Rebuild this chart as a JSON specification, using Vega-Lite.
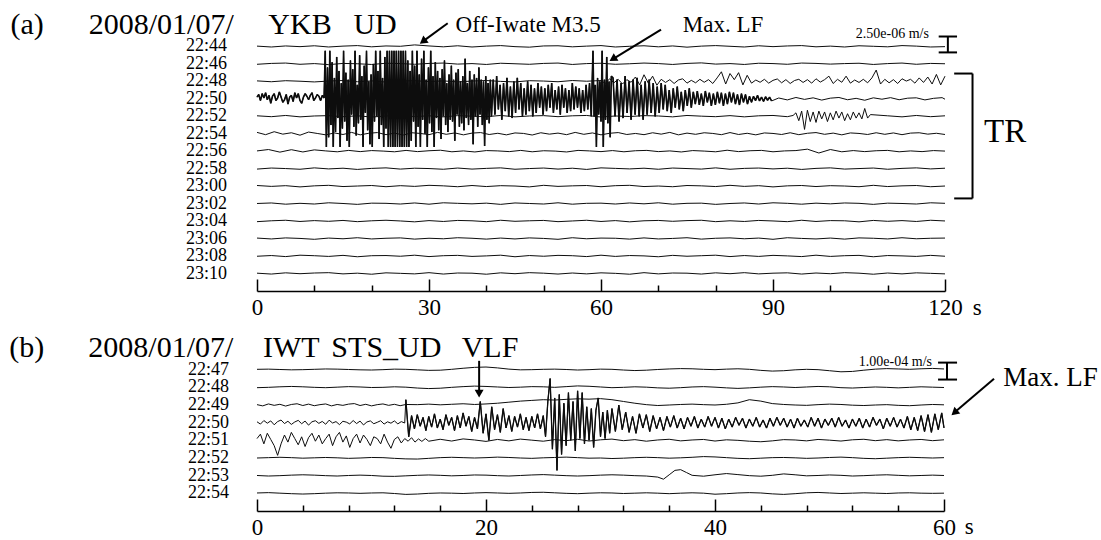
{
"$schema":"https://vega.github.io/schema/vega-lite/v6.json",
"background":"white",
"padding":{"left":9,"top":10,"right":4,"bottom":0},
"config":{"view":{"stroke":null},"font":"Liberation Serif","axis":{"labelFont":"Liberation Serif","labelColor":"black","grid":false}},
"spacing":61,
"bounds":"flush",
"datasets":{
"A":[
{"k":0,"t":0,"y":0.02},{"k":0,"t":2.5,"y":-0.03},{"k":0,"t":5,"y":0.03},{"k":0,"t":7.5,"y":-0.01},{"k":0,"t":10,"y":0.04},{"k":0,"t":12.5,"y":-0.03},{"k":0,"t":15,"y":0.02},{"k":0,"t":17.5,"y":0.05},{"k":0,"t":20,"y":-0.02},{"k":0,"t":22.5,"y":0.03},{"k":0,"t":25,"y":0.01},{"k":0,"t":27.5,"y":0.09},{"k":0,"t":30,"y":0.03},{"k":0,"t":32.5,"y":-0.02},{"k":0,"t":35,"y":0.04},{"k":0,"t":37.5,"y":-0.03},{"k":0,"t":40,"y":0.02},{"k":0,"t":42.5,"y":0.05},{"k":0,"t":45,"y":-0.01},{"k":0,"t":47.5,"y":-0.04},{"k":0,"t":50,"y":0.03},{"k":0,"t":52.5,"y":0.04},{"k":0,"t":55,"y":-0.02},{"k":0,"t":57.5,"y":0.02},{"k":0,"t":60,"y":0.05},{"k":0,"t":62.5,"y":-0.03},{"k":0,"t":65,"y":0.01},{"k":0,"t":67.5,"y":0.04},{"k":0,"t":70,"y":-0.02},{"k":0,"t":72.5,"y":0.03},{"k":0,"t":75,"y":-0.04},{"k":0,"t":77.5,"y":0.02},{"k":0,"t":80,"y":0.05},{"k":0,"t":82.5,"y":0.01},{"k":0,"t":85,"y":-0.03},{"k":0,"t":87.5,"y":0.04},{"k":0,"t":90,"y":-0.01},{"k":0,"t":92.5,"y":0.03},{"k":0,"t":95,"y":0.05},{"k":0,"t":97.5,"y":-0.02},{"k":0,"t":100,"y":0.02},{"k":0,"t":102.5,"y":-0.03},{"k":0,"t":105,"y":0.04},{"k":0,"t":107.5,"y":0.01},{"k":0,"t":110,"y":-0.02},{"k":0,"t":112.5,"y":0.05},{"k":0,"t":115,"y":0.02},{"k":0,"t":117.5,"y":-0.03},{"k":0,"t":120,"y":-0.01},
{"k":1,"t":0,"y":-1.02},{"k":1,"t":2.5,"y":-0.97},{"k":1,"t":5,"y":-0.95},{"k":1,"t":7.5,"y":-1.02},{"k":1,"t":10,"y":-0.98},{"k":1,"t":12.5,"y":-1.04},{"k":1,"t":15,"y":-0.97},{"k":1,"t":17.5,"y":-0.99},{"k":1,"t":20,"y":-1.03},{"k":1,"t":22.5,"y":-0.96},{"k":1,"t":25,"y":-0.98},{"k":1,"t":27.5,"y":-1.02},{"k":1,"t":30,"y":-0.97},{"k":1,"t":32.5,"y":-0.95},{"k":1,"t":35,"y":-1.01},{"k":1,"t":37.5,"y":-0.98},{"k":1,"t":40,"y":-1.03},{"k":1,"t":42.5,"y":-0.96},{"k":1,"t":45,"y":-0.99},{"k":1,"t":47.5,"y":-1.02},{"k":1,"t":50,"y":-0.97},{"k":1,"t":52.5,"y":-0.95},{"k":1,"t":55,"y":-1.03},{"k":1,"t":57.5,"y":-0.98},{"k":1,"t":60,"y":-0.96},{"k":1,"t":62.5,"y":-1.02},{"k":1,"t":65,"y":-0.99},{"k":1,"t":67.5,"y":-0.95},{"k":1,"t":70,"y":-0.98},{"k":1,"t":72.5,"y":-1.03},{"k":1,"t":75,"y":-0.97},{"k":1,"t":77.5,"y":-0.94},{"k":1,"t":80,"y":-1.01},{"k":1,"t":82.5,"y":-0.98},{"k":1,"t":85,"y":-1.03},{"k":1,"t":87.5,"y":-0.96},{"k":1,"t":90,"y":-0.98},{"k":1,"t":92.5,"y":-1.02},{"k":1,"t":95,"y":-0.95},{"k":1,"t":97.5,"y":-0.97},{"k":1,"t":100,"y":-1.01},{"k":1,"t":102.5,"y":-0.98},{"k":1,"t":105,"y":-0.96},{"k":1,"t":107.5,"y":-1.03},{"k":1,"t":110,"y":-0.98},{"k":1,"t":112.5,"y":-0.95},{"k":1,"t":115,"y":-1.02},{"k":1,"t":117.5,"y":-0.97},{"k":1,"t":120,"y":-0.99},
{"k":2,"t":0,"y":-1.97},{"k":2,"t":2.5,"y":-2.02},{"k":2,"t":5,"y":-1.96},{"k":2,"t":7.5,"y":-1.99},{"k":2,"t":10,"y":-2.03},{"k":2,"t":12.5,"y":-1.98},{"k":2,"t":15,"y":-1.95},{"k":2,"t":17.5,"y":-2.02},{"k":2,"t":20,"y":-1.97},{"k":2,"t":22.5,"y":-2.04},{"k":2,"t":25,"y":-1.98},{"k":2,"t":27.5,"y":-1.96},{"k":2,"t":30,"y":-2.01},{"k":2,"t":32.5,"y":-1.97},{"k":2,"t":35,"y":-2.03},{"k":2,"t":37.5,"y":-1.98},{"k":2,"t":40,"y":-1.95},{"k":2,"t":42.5,"y":-2},{"k":2,"t":45,"y":-2.03},{"k":2,"t":47.5,"y":-1.96},{"k":2,"t":50,"y":-1.98},{"k":2,"t":52.5,"y":-2.02},{"k":2,"t":55,"y":-1.95},{"k":2,"t":57.5,"y":-1.99},
{"k":2,"t":60,"y":-1.95},{"k":2,"t":60.75,"y":-2.12},{"k":2,"t":61.5,"y":-1.85},{"k":2,"t":62.25,"y":-2.08},{"k":2,"t":63,"y":-1.88},{"k":2,"t":63.75,"y":-2.15},{"k":2,"t":64.5,"y":-1.9},{"k":2,"t":65.25,"y":-2.05},{"k":2,"t":66,"y":-1.75},{"k":2,"t":66.75,"y":-2.2},{"k":2,"t":67.5,"y":-1.62},{"k":2,"t":68.25,"y":-2.1},{"k":2,"t":69,"y":-1.7},{"k":2,"t":69.75,"y":-2.22},{"k":2,"t":70.5,"y":-1.88},{"k":2,"t":71.25,"y":-2.06},{"k":2,"t":72,"y":-1.9},{"k":2,"t":72.75,"y":-2.12},{"k":2,"t":73.5,"y":-1.92},{"k":2,"t":74.25,"y":-1.85},{"k":2,"t":75,"y":-2.1},{"k":2,"t":75.75,"y":-1.94},{"k":2,"t":76.5,"y":-2.08},{"k":2,"t":77.25,"y":-1.88},{"k":2,"t":78,"y":-2.05},{"k":2,"t":78.75,"y":-1.9},{"k":2,"t":79.5,"y":-2.12},{"k":2,"t":80.25,"y":-1.8},{"k":2,"t":81,"y":-1.45},{"k":2,"t":81.75,"y":-2.15},{"k":2,"t":82.5,"y":-1.55},{"k":2,"t":83.25,"y":-1.9},{"k":2,"t":84,"y":-1.5},{"k":2,"t":84.75,"y":-2.2},{"k":2,"t":85.5,"y":-1.65},{"k":2,"t":86.25,"y":-2.1},{"k":2,"t":87,"y":-1.92},{"k":2,"t":87.75,"y":-2.05},{"k":2,"t":88.5,"y":-1.88},{"k":2,"t":89.25,"y":-2.1},{"k":2,"t":90,"y":-1.94},{"k":2,"t":90.75,"y":-1.86},{"k":2,"t":91.5,"y":-2.08},{"k":2,"t":92.25,"y":-1.9},{"k":2,"t":93,"y":-2.12},{"k":2,"t":93.75,"y":-1.95},{"k":2,"t":94.5,"y":-1.88},{"k":2,"t":95.25,"y":-2.06},{"k":2,"t":96,"y":-1.9},{"k":2,"t":96.75,"y":-2.1},{"k":2,"t":97.5,"y":-1.85},{"k":2,"t":98.25,"y":-2.04},{"k":2,"t":99,"y":-1.9},{"k":2,"t":99.75,"y":-1.7},{"k":2,"t":100.5,"y":-2.12},{"k":2,"t":101.25,"y":-1.88},{"k":2,"t":102,"y":-2.05},{"k":2,"t":102.75,"y":-1.7},{"k":2,"t":103.5,"y":-2.1},{"k":2,"t":104.25,"y":-1.92},{"k":2,"t":105,"y":-2.06},{"k":2,"t":105.75,"y":-1.88},{"k":2,"t":106.5,"y":-2.08},{"k":2,"t":107.25,"y":-1.8},{"k":2,"t":108,"y":-1.35},{"k":2,"t":108.75,"y":-2.15},{"k":2,"t":109.5,"y":-1.88},{"k":2,"t":110.25,"y":-2.08},{"k":2,"t":111,"y":-1.9},{"k":2,"t":111.75,"y":-2.12},{"k":2,"t":112.5,"y":-1.85},{"k":2,"t":113.25,"y":-1.98},{"k":2,"t":114,"y":-1.88},{"k":2,"t":114.75,"y":-2.1},{"k":2,"t":115.5,"y":-1.8},{"k":2,"t":116.25,"y":-2.06},{"k":2,"t":117,"y":-1.75},{"k":2,"t":117.75,"y":-2.15},{"k":2,"t":118.5,"y":-1.6},{"k":2,"t":119.25,"y":-2.2},{"k":2,"t":120,"y":-1.7},
{"k":3,"t":0,"y":-2.9},{"k":3,"t":0.3,"y":-2.75},{"k":3,"t":0.6,"y":-3.1},{"k":3,"t":0.9,"y":-2.7},{"k":3,"t":1.2,"y":-2.95},{"k":3,"t":1.5,"y":-2.65},{"k":3,"t":1.8,"y":-3.05},{"k":3,"t":2.1,"y":-2.8},{"k":3,"t":2.4,"y":-3.25},{"k":3,"t":2.7,"y":-2.85},{"k":3,"t":3,"y":-2.7},{"k":3,"t":3.3,"y":-3.1},{"k":3,"t":3.6,"y":-2.95},{"k":3,"t":3.9,"y":-2.6},{"k":3,"t":4.2,"y":-2.9},{"k":3,"t":4.5,"y":-3.2},{"k":3,"t":4.8,"y":-3.05},{"k":3,"t":5.1,"y":-2.75},{"k":3,"t":5.4,"y":-3.3},{"k":3,"t":5.7,"y":-2.9},{"k":3,"t":6,"y":-2.8},{"k":3,"t":6.3,"y":-3.15},{"k":3,"t":6.6,"y":-2.65},{"k":3,"t":6.9,"y":-2.95},{"k":3,"t":7.2,"y":-2.7},{"k":3,"t":7.5,"y":-3.1},{"k":3,"t":7.8,"y":-3.25},{"k":3,"t":8.1,"y":-2.9},{"k":3,"t":8.4,"y":-2.7},{"k":3,"t":8.7,"y":-2.85},{"k":3,"t":9,"y":-3.05},{"k":3,"t":9.3,"y":-2.8},{"k":3,"t":9.6,"y":-2.65},{"k":3,"t":9.9,"y":-3.1},{"k":3,"t":10.2,"y":-2.95},{"k":3,"t":10.5,"y":-2.75},{"k":3,"t":10.8,"y":-2.85},{"k":3,"t":11.1,"y":-3.1},{"k":3,"t":11.4,"y":-2.8},{"k":3,"t":11.7,"y":-2.95},
{"k":3,"t":11.9,"y":-0.25},{"k":3,"t":12.1,"y":-5.75},{"k":3,"t":12.3,"y":-1.2},{"k":3,"t":12.5,"y":-5.2},{"k":3,"t":12.7,"y":-0.25},{"k":3,"t":12.9,"y":-4.5},{"k":3,"t":13.1,"y":-0.9},{"k":3,"t":13.3,"y":-5.75},{"k":3,"t":13.5,"y":-1.8},{"k":3,"t":13.7,"y":-4.9},
{"k":3,"t":13.9,"y":-0.6},{"k":3,"t":14.1,"y":-4.1},{"k":3,"t":14.3,"y":-1.4},{"k":3,"t":14.5,"y":-5.75},{"k":3,"t":14.7,"y":-2.1},{"k":3,"t":14.9,"y":-4.7},{"k":3,"t":15.1,"y":-0.25},{"k":3,"t":15.3,"y":-4.3},{"k":3,"t":15.5,"y":-1.5},{"k":3,"t":15.7,"y":-5.4},
{"k":3,"t":15.9,"y":-1.9},{"k":3,"t":16.1,"y":-5.75},{"k":3,"t":16.3,"y":-0.8},{"k":3,"t":16.5,"y":-3.9},{"k":3,"t":16.7,"y":-1.3},{"k":3,"t":16.9,"y":-4.6},{"k":3,"t":17.1,"y":-0.25},{"k":3,"t":17.3,"y":-5.1},{"k":3,"t":17.5,"y":-2.2},{"k":3,"t":17.7,"y":-4.4},
{"k":3,"t":17.9,"y":-0.5},{"k":3,"t":18.1,"y":-4.2},{"k":3,"t":18.3,"y":-1.7},{"k":3,"t":18.5,"y":-5.75},{"k":3,"t":18.7,"y":-1.1},{"k":3,"t":18.9,"y":-3.8},{"k":3,"t":19.1,"y":-0.25},{"k":3,"t":19.3,"y":-4.8},{"k":3,"t":19.5,"y":-2},{"k":3,"t":19.7,"y":-5.6},
{"k":3,"t":19.9,"y":-1.6},{"k":3,"t":20.1,"y":-5.75},{"k":3,"t":20.3,"y":-1},{"k":3,"t":20.5,"y":-4.3},{"k":3,"t":20.7,"y":-0.25},{"k":3,"t":20.9,"y":-4},{"k":3,"t":21.1,"y":-1.4},{"k":3,"t":21.3,"y":-5.3},{"k":3,"t":21.5,"y":-0.25},{"k":3,"t":21.7,"y":-4.5},
{"k":3,"t":21.9,"y":-1.8},{"k":3,"t":22.1,"y":-5.75},{"k":3,"t":22.3,"y":-0.6},{"k":3,"t":22.5,"y":-4.7},{"k":3,"t":22.7,"y":-0.25},{"k":3,"t":22.9,"y":-5.75},{"k":3,"t":23.1,"y":-0.25},{"k":3,"t":23.3,"y":-5.75},{"k":3,"t":23.5,"y":-0.25},{"k":3,"t":23.7,"y":-5.75},
{"k":3,"t":23.9,"y":-0.25},{"k":3,"t":24.1,"y":-5.75},{"k":3,"t":24.3,"y":-0.25},{"k":3,"t":24.5,"y":-5.75},{"k":3,"t":24.7,"y":-0.25},{"k":3,"t":24.9,"y":-5.75},{"k":3,"t":25.1,"y":-0.25},{"k":3,"t":25.3,"y":-5.75},{"k":3,"t":25.5,"y":-0.25},{"k":3,"t":25.7,"y":-5.75},
{"k":3,"t":25.9,"y":-0.25},{"k":3,"t":26.1,"y":-5.75},{"k":3,"t":26.3,"y":-0.8},{"k":3,"t":26.5,"y":-5.75},{"k":3,"t":26.7,"y":-1.4},{"k":3,"t":26.9,"y":-5.4},{"k":3,"t":27.1,"y":-0.25},{"k":3,"t":27.3,"y":-4.3},{"k":3,"t":27.5,"y":-1.1},{"k":3,"t":27.7,"y":-5.75},
{"k":3,"t":27.9,"y":-0.25},{"k":3,"t":28.1,"y":-4.6},{"k":3,"t":28.3,"y":-1.6},{"k":3,"t":28.5,"y":-5.75},{"k":3,"t":28.7,"y":-0.7},{"k":3,"t":28.9,"y":-4.2},{"k":3,"t":29.1,"y":-0.25},{"k":3,"t":29.3,"y":-5},{"k":3,"t":29.5,"y":-1.9},{"k":3,"t":29.7,"y":-5.75},
{"k":3,"t":29.9,"y":-1.2},{"k":3,"t":30.1,"y":-4.4},{"k":3,"t":30.3,"y":-0.25},{"k":3,"t":30.5,"y":-4.9},{"k":3,"t":30.7,"y":-1.7},{"k":3,"t":30.9,"y":-5.75},{"k":3,"t":31.1,"y":-0.9},{"k":3,"t":31.3,"y":-4.1},{"k":3,"t":31.5,"y":-1.4},{"k":3,"t":31.7,"y":-4.8},
{"k":3,"t":31.9,"y":-1.8},{"k":3,"t":32.1,"y":-5.3},{"k":3,"t":32.3,"y":-1.3},{"k":3,"t":32.5,"y":-4},{"k":3,"t":32.7,"y":-0.8},{"k":3,"t":32.9,"y":-4.5},{"k":3,"t":33.1,"y":-2.1},{"k":3,"t":33.3,"y":-4.9},{"k":3,"t":33.5,"y":-1.6},{"k":3,"t":33.7,"y":-4.2},
{"k":3,"t":33.9,"y":-1.1},{"k":3,"t":34.1,"y":-4.3},{"k":3,"t":34.3,"y":-1.9},{"k":3,"t":34.5,"y":-5.4},{"k":3,"t":34.7,"y":-1.5},{"k":3,"t":34.9,"y":-3.9},{"k":3,"t":35.1,"y":-1.3},{"k":3,"t":35.3,"y":-4.6},{"k":3,"t":35.5,"y":-2},{"k":3,"t":35.7,"y":-4.4},
{"k":3,"t":35.9,"y":-1.7},{"k":3,"t":36.1,"y":-4.8},{"k":3,"t":36.3,"y":-0.7},{"k":3,"t":36.5,"y":-4.1},{"k":3,"t":36.7,"y":-2.1},{"k":3,"t":36.9,"y":-4.5},{"k":3,"t":37.1,"y":-1.4},{"k":3,"t":37.3,"y":-4.2},{"k":3,"t":37.5,"y":-1.9},{"k":3,"t":37.7,"y":-5.6},
{"k":3,"t":37.9,"y":-1.6},{"k":3,"t":38.1,"y":-4},{"k":3,"t":38.3,"y":-1.8},{"k":3,"t":38.5,"y":-4.6},{"k":3,"t":38.7,"y":-1.2},{"k":3,"t":38.9,"y":-3.9},{"k":3,"t":39.1,"y":-1.9},{"k":3,"t":39.3,"y":-4.5},{"k":3,"t":39.5,"y":-2},{"k":3,"t":39.7,"y":-5.7},
{"k":3,"t":39.9,"y":-1.7},{"k":3,"t":40.1,"y":-4.2},{"k":3,"t":40.3,"y":-2.1},{"k":3,"t":40.5,"y":-4.4},{"k":3,"t":40.7,"y":-1.9},{"k":3,"t":40.9,"y":-4},
{"k":3,"t":41.2,"y":-1.9},{"k":3,"t":41.5,"y":-3.9},{"k":3,"t":41.8,"y":-1.7},{"k":3,"t":42.1,"y":-3.6},{"k":3,"t":42.4,"y":-2.2},{"k":3,"t":42.7,"y":-4.2},{"k":3,"t":43,"y":-2.1},{"k":3,"t":43.3,"y":-3.7},{"k":3,"t":43.6,"y":-1.8},{"k":3,"t":43.9,"y":-4},
{"k":3,"t":44.2,"y":-2.3},{"k":3,"t":44.5,"y":-4.1},{"k":3,"t":44.8,"y":-2},{"k":3,"t":45.1,"y":-3.8},{"k":3,"t":45.4,"y":-1.8},{"k":3,"t":45.7,"y":-3.6},{"k":3,"t":46,"y":-2.1},{"k":3,"t":46.3,"y":-4},{"k":3,"t":46.6,"y":-2.4},{"k":3,"t":46.9,"y":-3.9},
{"k":3,"t":47.2,"y":-2},{"k":3,"t":47.5,"y":-3.7},{"k":3,"t":47.8,"y":-2.2},{"k":3,"t":48.1,"y":-4},{"k":3,"t":48.4,"y":-2.4},{"k":3,"t":48.7,"y":-3.8},{"k":3,"t":49,"y":-2.1},{"k":3,"t":49.3,"y":-3.5},{"k":3,"t":49.6,"y":-2.3},{"k":3,"t":49.9,"y":-3.9},
{"k":3,"t":50.2,"y":-2.4},{"k":3,"t":50.5,"y":-3.7},{"k":3,"t":50.8,"y":-2.2},{"k":3,"t":51.1,"y":-3.5},{"k":3,"t":51.4,"y":-2.1},{"k":3,"t":51.7,"y":-3.8},{"k":3,"t":52,"y":-2.5},{"k":3,"t":52.3,"y":-3.6},{"k":3,"t":52.6,"y":-2.3},{"k":3,"t":52.9,"y":-3.9},
{"k":3,"t":53.2,"y":-2.2},{"k":3,"t":53.5,"y":-3.5},{"k":3,"t":53.8,"y":-2.4},{"k":3,"t":54.1,"y":-3.8},{"k":3,"t":54.4,"y":-2.5},{"k":3,"t":54.7,"y":-3.7},{"k":3,"t":55,"y":-2.1},{"k":3,"t":55.3,"y":-3.6},{"k":3,"t":55.6,"y":-2.3},{"k":3,"t":55.9,"y":-3.5},
{"k":3,"t":56.2,"y":-2.4},{"k":3,"t":56.5,"y":-3.8},{"k":3,"t":56.8,"y":-2.5},{"k":3,"t":57.1,"y":-3.7},{"k":3,"t":57.4,"y":-2.2},{"k":3,"t":57.7,"y":-3.6},{"k":3,"t":58,"y":-2.1},{"k":3,"t":58.3,"y":-4},
{"k":3,"t":58.6,"y":-0.25},{"k":3,"t":58.8,"y":-4},{"k":3,"t":59,"y":-2.2},{"k":3,"t":59.2,"y":-5.75},{"k":3,"t":59.4,"y":-1.8},{"k":3,"t":59.6,"y":-3.9},{"k":3,"t":59.8,"y":-2},{"k":3,"t":60,"y":-4.3},{"k":3,"t":60.2,"y":-0.25},{"k":3,"t":60.4,"y":-5.75},{"k":3,"t":60.6,"y":-1.9},{"k":3,"t":60.8,"y":-4.2},{"k":3,"t":61,"y":-0.6},{"k":3,"t":61.2,"y":-4.4},{"k":3,"t":61.4,"y":-2},{"k":3,"t":61.6,"y":-5.2},{"k":3,"t":61.8,"y":-1.7},
{"k":3,"t":62.1,"y":-1.8},{"k":3,"t":62.45,"y":-4},{"k":3,"t":62.8,"y":-1.9},{"k":3,"t":63.15,"y":-4.3},{"k":3,"t":63.5,"y":-2.1},{"k":3,"t":63.85,"y":-4.1},{"k":3,"t":64.2,"y":-1.7},{"k":3,"t":64.55,"y":-3.8},{"k":3,"t":64.9,"y":-2},{"k":3,"t":65.25,"y":-4.2},
{"k":3,"t":65.6,"y":-1.9},{"k":3,"t":65.95,"y":-3.9},{"k":3,"t":66.3,"y":-1.8},{"k":3,"t":66.65,"y":-4},{"k":3,"t":67,"y":-2.2},{"k":3,"t":67.35,"y":-4.2},{"k":3,"t":67.7,"y":-2},{"k":3,"t":68.05,"y":-3.9},{"k":3,"t":68.4,"y":-1.9},{"k":3,"t":68.75,"y":-3.8},
{"k":3,"t":69.1,"y":-2.1},{"k":3,"t":69.45,"y":-4},{"k":3,"t":69.8,"y":-2.3},{"k":3,"t":70.15,"y":-3.8},{"k":3,"t":70.5,"y":-2.1},{"k":3,"t":70.85,"y":-3.6},{"k":3,"t":71.2,"y":-2.2},{"k":3,"t":71.55,"y":-3.7},{"k":3,"t":71.9,"y":-2.5},{"k":3,"t":72.25,"y":-3.8},
{"k":3,"t":72.6,"y":-2.4},{"k":3,"t":72.95,"y":-3.5},{"k":3,"t":73.3,"y":-2.3},{"k":3,"t":73.65,"y":-3.6},{"k":3,"t":74,"y":-2.6},{"k":3,"t":74.35,"y":-3.7},{"k":3,"t":74.7,"y":-2.5},{"k":3,"t":75.05,"y":-3.4},{"k":3,"t":75.4,"y":-2.4},{"k":3,"t":75.75,"y":-3.5},
{"k":3,"t":76.1,"y":-2.6},{"k":3,"t":76.45,"y":-3.3},{"k":3,"t":76.8,"y":-2.55},{"k":3,"t":77.15,"y":-3.35},{"k":3,"t":77.5,"y":-2.7},{"k":3,"t":77.85,"y":-3.4},{"k":3,"t":78.2,"y":-2.55},{"k":3,"t":78.55,"y":-3.2},{"k":3,"t":78.9,"y":-2.65},{"k":3,"t":79.25,"y":-3.4},
{"k":3,"t":79.6,"y":-2.7},{"k":3,"t":79.95,"y":-3.35},{"k":3,"t":80.3,"y":-2.6},{"k":3,"t":80.65,"y":-3.25},{"k":3,"t":81,"y":-2.65},{"k":3,"t":81.35,"y":-3.4},{"k":3,"t":81.7,"y":-2.7},{"k":3,"t":82.05,"y":-3.3},{"k":3,"t":82.4,"y":-2.6},{"k":3,"t":82.75,"y":-3.2},
{"k":3,"t":83.1,"y":-2.65},{"k":3,"t":83.45,"y":-3.3},{"k":3,"t":83.8,"y":-2.75},{"k":3,"t":84.15,"y":-3.35},{"k":3,"t":84.5,"y":-2.7},{"k":3,"t":84.85,"y":-3.2},{"k":3,"t":85.2,"y":-2.75},{"k":3,"t":85.55,"y":-3.3},{"k":3,"t":85.9,"y":-2.85},{"k":3,"t":86.25,"y":-3.2},
{"k":3,"t":86.6,"y":-2.85},{"k":3,"t":86.95,"y":-3.1},{"k":3,"t":87.3,"y":-2.8},{"k":3,"t":87.65,"y":-3.12},{"k":3,"t":88,"y":-2.9},{"k":3,"t":88.35,"y":-3.15},{"k":3,"t":88.7,"y":-2.88},{"k":3,"t":89.05,"y":-3.08},{"k":3,"t":89.4,"y":-2.9},{"k":3,"t":89.75,"y":-3.12},
{"k":3,"t":91,"y":-2.95},{"k":3,"t":92.5,"y":-3.06},{"k":3,"t":94,"y":-2.92},{"k":3,"t":95.5,"y":-3.03},{"k":3,"t":97,"y":-2.94},{"k":3,"t":98.5,"y":-3.07},{"k":3,"t":100,"y":-2.96},{"k":3,"t":101.5,"y":-2.92},{"k":3,"t":103,"y":-3.05},{"k":3,"t":104.5,"y":-2.97},{"k":3,"t":106,"y":-3.08},{"k":3,"t":107.5,"y":-2.94},{"k":3,"t":109,"y":-3.02},{"k":3,"t":110.5,"y":-2.93},{"k":3,"t":112,"y":-3.05},{"k":3,"t":113.5,"y":-2.96},{"k":3,"t":115,"y":-2.94},{"k":3,"t":116.5,"y":-3.06},{"k":3,"t":118,"y":-2.97},{"k":3,"t":119.5,"y":-2.93},{"k":3,"t":120,"y":-3.02},
{"k":4,"t":0,"y":-3.97},{"k":4,"t":2.5,"y":-4.02},{"k":4,"t":5,"y":-3.95},{"k":4,"t":7.5,"y":-4.03},{"k":4,"t":10,"y":-3.98},{"k":4,"t":12.5,"y":-3.96},{"k":4,"t":15,"y":-4.02},{"k":4,"t":17.5,"y":-3.97},{"k":4,"t":20,"y":-4.04},{"k":4,"t":22.5,"y":-3.98},{"k":4,"t":25,"y":-3.95},{"k":4,"t":27.5,"y":-4.01},{"k":4,"t":30,"y":-3.97},{"k":4,"t":32.5,"y":-4.03},{"k":4,"t":35,"y":-3.96},{"k":4,"t":37.5,"y":-3.99},{"k":4,"t":40,"y":-4.02},{"k":4,"t":42.5,"y":-3.95},{"k":4,"t":45,"y":-4.03},{"k":4,"t":47.5,"y":-3.98},{"k":4,"t":50,"y":-3.96},{"k":4,"t":52.5,"y":-4.02},{"k":4,"t":55,"y":-3.97},{"k":4,"t":57.5,"y":-3.95},{"k":4,"t":60,"y":-4.04},{"k":4,"t":62.5,"y":-3.98},{"k":4,"t":65,"y":-4.01},{"k":4,"t":67.5,"y":-3.96},{"k":4,"t":70,"y":-3.98},{"k":4,"t":72.5,"y":-4.03},{"k":4,"t":75,"y":-3.95},{"k":4,"t":77.5,"y":-3.99},{"k":4,"t":80,"y":-4.02},{"k":4,"t":82.5,"y":-3.96},{"k":4,"t":85,"y":-4.03},{"k":4,"t":87.5,"y":-3.97},{"k":4,"t":90,"y":-3.95},{"k":4,"t":92.5,"y":-4.02},
{"k":4,"t":93.5,"y":-3.95},{"k":4,"t":94,"y":-3.8},{"k":4,"t":94.5,"y":-4.25},{"k":4,"t":95,"y":-3.7},{"k":4,"t":95.5,"y":-4.75},{"k":4,"t":96,"y":-3.65},{"k":4,"t":96.5,"y":-4.3},{"k":4,"t":97,"y":-3.75},{"k":4,"t":97.5,"y":-4.35},{"k":4,"t":98,"y":-3.7},{"k":4,"t":98.5,"y":-4.15},{"k":4,"t":99,"y":-3.75},{"k":4,"t":99.5,"y":-4.3},{"k":4,"t":100,"y":-3.8},{"k":4,"t":100.5,"y":-4.2},{"k":4,"t":101,"y":-3.7},{"k":4,"t":101.5,"y":-4.1},{"k":4,"t":102,"y":-3.75},{"k":4,"t":102.5,"y":-4.25},{"k":4,"t":103,"y":-3.85},{"k":4,"t":103.5,"y":-4.2},{"k":4,"t":104,"y":-3.75},{"k":4,"t":104.5,"y":-4.1},{"k":4,"t":105,"y":-3.8},{"k":4,"t":105.5,"y":-4.15},{"k":4,"t":106,"y":-3.55},{"k":4,"t":106.5,"y":-4.1},{"k":4,"t":107,"y":-3.9},
{"k":4,"t":110,"y":-3.97},{"k":4,"t":112.5,"y":-4.03},{"k":4,"t":115,"y":-3.95},{"k":4,"t":117.5,"y":-4.02},{"k":4,"t":120,"y":-3.97},
{"k":5,"t":0,"y":-4.92},{"k":5,"t":1.5,"y":-5.05},{"k":5,"t":3,"y":-4.88},{"k":5,"t":4.5,"y":-5.02},{"k":5,"t":6,"y":-4.94},{"k":5,"t":7.5,"y":-5.08},{"k":5,"t":9,"y":-4.9},{"k":5,"t":10.5,"y":-4.98},{"k":5,"t":12,"y":-5.06},{"k":5,"t":13.5,"y":-4.95},
{"k":5,"t":15,"y":-5.04},{"k":5,"t":16.5,"y":-4.92},{"k":5,"t":18,"y":-5.06},{"k":5,"t":19.5,"y":-4.97},{"k":5,"t":21,"y":-4.93},{"k":5,"t":22.5,"y":-5.05},{"k":5,"t":24,"y":-4.96},{"k":5,"t":25.5,"y":-5.07},{"k":5,"t":27,"y":-4.94},{"k":5,"t":28.5,"y":-4.98},
{"k":5,"t":30,"y":-5.05},{"k":5,"t":31.5,"y":-4.92},{"k":5,"t":33,"y":-5.03},{"k":5,"t":34.5,"y":-4.95},{"k":5,"t":36,"y":-5.06},{"k":5,"t":37.5,"y":-4.96},{"k":5,"t":39,"y":-4.93},{"k":5,"t":40.5,"y":-5.04},{"k":5,"t":42,"y":-4.97},{"k":5,"t":43.5,"y":-5.06},
{"k":5,"t":45,"y":-4.95},{"k":5,"t":46.5,"y":-4.98},{"k":5,"t":48,"y":-5.07},{"k":5,"t":49.5,"y":-4.94},{"k":5,"t":51,"y":-5.02},{"k":5,"t":52.5,"y":-4.96},{"k":5,"t":54,"y":-5.05},{"k":5,"t":55.5,"y":-4.92},{"k":5,"t":57,"y":-5.03},{"k":5,"t":58.5,"y":-4.95},
{"k":5,"t":60,"y":-5.06},{"k":5,"t":61.5,"y":-4.97},{"k":5,"t":63,"y":-4.93},{"k":5,"t":64.5,"y":-5.04},{"k":5,"t":66,"y":-4.98},{"k":5,"t":67.5,"y":-5.05},{"k":5,"t":69,"y":-4.94},{"k":5,"t":70.5,"y":-5.02},{"k":5,"t":72,"y":-4.92},{"k":5,"t":73.5,"y":-5.06},
{"k":5,"t":75,"y":-4.96},{"k":5,"t":76.5,"y":-5.03},{"k":5,"t":78,"y":-4.94},{"k":5,"t":79.5,"y":-4.98},{"k":5,"t":81,"y":-5.05},{"k":5,"t":82.5,"y":-4.93},{"k":5,"t":84,"y":-5.04},{"k":5,"t":85.5,"y":-4.97},{"k":5,"t":87,"y":-5.06},{"k":5,"t":88.5,"y":-4.95},
{"k":5,"t":90,"y":-4.98},{"k":5,"t":91.5,"y":-5.04},{"k":5,"t":93,"y":-4.94},{"k":5,"t":94.5,"y":-5.05},{"k":5,"t":96,"y":-4.97},{"k":5,"t":97.5,"y":-4.93},{"k":5,"t":99,"y":-5.03},{"k":5,"t":100.5,"y":-4.96},{"k":5,"t":102,"y":-5.06},{"k":5,"t":103.5,"y":-4.95},
{"k":5,"t":105,"y":-4.98},{"k":5,"t":106.5,"y":-5.04},{"k":5,"t":108,"y":-4.94},{"k":5,"t":109.5,"y":-5.03},{"k":5,"t":111,"y":-4.95},{"k":5,"t":112.5,"y":-5.05},{"k":5,"t":114,"y":-4.96},{"k":5,"t":115.5,"y":-4.94},{"k":5,"t":117,"y":-5.02},{"k":5,"t":118.5,"y":-4.97},{"k":5,"t":120,"y":-5.04},
{"k":6,"t":0,"y":-5.98},{"k":6,"t":2,"y":-5.9},{"k":6,"t":4,"y":-6.05},{"k":6,"t":6,"y":-5.91},{"k":6,"t":8,"y":-6.04},{"k":6,"t":10,"y":-5.92},{"k":6,"t":12,"y":-5.98},{"k":6,"t":14,"y":-6.03},{"k":6,"t":16,"y":-5.95},{"k":6,"t":18,"y":-6.02},{"k":6,"t":20,"y":-5.96},{"k":6,"t":22,"y":-5.99},{"k":6,"t":24,"y":-6.03},{"k":6,"t":26,"y":-5.95},{"k":6,"t":28,"y":-6.02},{"k":6,"t":30,"y":-5.97},{"k":6,"t":32,"y":-5.94},{"k":6,"t":34,"y":-6.03},{"k":6,"t":36,"y":-5.98},{"k":6,"t":38,"y":-6.04},{"k":6,"t":40,"y":-5.96},{"k":6,"t":42,"y":-5.98},{"k":6,"t":44,"y":-6.02},{"k":6,"t":46,"y":-5.95},{"k":6,"t":48,"y":-6.03},{"k":6,"t":50,"y":-5.97},{"k":6,"t":52,"y":-5.99},{"k":6,"t":54,"y":-6.04},{"k":6,"t":56,"y":-5.95},{"k":6,"t":58,"y":-5.98},{"k":6,"t":60,"y":-6.02},{"k":6,"t":62,"y":-5.96},{"k":6,"t":64,"y":-6.03},{"k":6,"t":66,"y":-5.97},{"k":6,"t":68,"y":-5.95},{"k":6,"t":70,"y":-6.02},{"k":6,"t":72,"y":-5.98},{"k":6,"t":74,"y":-6.04},{"k":6,"t":76,"y":-5.96},{"k":6,"t":78,"y":-5.99},{"k":6,"t":80,"y":-6.03},{"k":6,"t":82,"y":-5.94},{"k":6,"t":84,"y":-6.02},{"k":6,"t":86,"y":-5.97},{"k":6,"t":88,"y":-5.95},{"k":6,"t":90,"y":-6.03},{"k":6,"t":92,"y":-5.98},{"k":6,"t":94,"y":-5.96},{"k":6,"t":96,"y":-5.88},{"k":6,"t":98,"y":-6.1},{"k":6,"t":100,"y":-5.9},{"k":6,"t":102,"y":-6.03},{"k":6,"t":104,"y":-5.96},{"k":6,"t":106,"y":-6.02},{"k":6,"t":108,"y":-5.97},{"k":6,"t":110,"y":-5.95},{"k":6,"t":112,"y":-6.03},{"k":6,"t":114,"y":-5.98},{"k":6,"t":116,"y":-6.02},{"k":6,"t":118,"y":-5.96},{"k":6,"t":120,"y":-5.99},
{"k":7,"t":0,"y":-7.02},{"k":7,"t":2.5,"y":-6.96},{"k":7,"t":5,"y":-6.99},{"k":7,"t":7.5,"y":-7.03},{"k":7,"t":10,"y":-6.95},{"k":7,"t":12.5,"y":-7.01},{"k":7,"t":15,"y":-6.97},{"k":7,"t":17.5,"y":-7.04},{"k":7,"t":20,"y":-6.98},{"k":7,"t":22.5,"y":-6.95},{"k":7,"t":25,"y":-7.02},{"k":7,"t":27.5,"y":-6.97},{"k":7,"t":30,"y":-6.99},{"k":7,"t":32.5,"y":-7.03},{"k":7,"t":35,"y":-6.96},{"k":7,"t":37.5,"y":-7.02},{"k":7,"t":40,"y":-6.98},{"k":7,"t":42.5,"y":-6.95},{"k":7,"t":45,"y":-7.03},{"k":7,"t":47.5,"y":-6.99},{"k":7,"t":50,"y":-6.96},{"k":7,"t":52.5,"y":-7.02},{"k":7,"t":55,"y":-6.97},{"k":7,"t":57.5,"y":-7.04},{"k":7,"t":60,"y":-6.95},{"k":7,"t":62.5,"y":-6.98},{"k":7,"t":65,"y":-7.01},{"k":7,"t":67.5,"y":-6.97},{"k":7,"t":70,"y":-7.03},{"k":7,"t":72.5,"y":-6.96},{"k":7,"t":75,"y":-6.99},{"k":7,"t":77.5,"y":-7.02},{"k":7,"t":80,"y":-6.95},{"k":7,"t":82.5,"y":-7.03},{"k":7,"t":85,"y":-6.98},{"k":7,"t":87.5,"y":-6.96},{"k":7,"t":90,"y":-7.01},{"k":7,"t":92.5,"y":-6.97},{"k":7,"t":95,"y":-7.04},{"k":7,"t":97.5,"y":-6.98},{"k":7,"t":100,"y":-6.95},{"k":7,"t":102.5,"y":-7.02},{"k":7,"t":105,"y":-6.99},{"k":7,"t":107.5,"y":-6.96},{"k":7,"t":110,"y":-7.03},{"k":7,"t":112.5,"y":-6.98},{"k":7,"t":115,"y":-6.95},{"k":7,"t":117.5,"y":-7.01},{"k":7,"t":120,"y":-6.97},
{"k":8,"t":0,"y":-7.96},{"k":8,"t":2.5,"y":-8.01},{"k":8,"t":5,"y":-7.97},{"k":8,"t":7.5,"y":-8.04},{"k":8,"t":10,"y":-7.98},{"k":8,"t":12.5,"y":-7.95},{"k":8,"t":15,"y":-8.02},{"k":8,"t":17.5,"y":-7.99},{"k":8,"t":20,"y":-7.96},{"k":8,"t":22.5,"y":-8.03},{"k":8,"t":25,"y":-7.97},{"k":8,"t":27.5,"y":-8.01},{"k":8,"t":30,"y":-7.95},{"k":8,"t":32.5,"y":-7.98},{"k":8,"t":35,"y":-8.03},{"k":8,"t":37.5,"y":-7.96},{"k":8,"t":40,"y":-8.02},{"k":8,"t":42.5,"y":-7.97},{"k":8,"t":45,"y":-7.99},{"k":8,"t":47.5,"y":-8.04},{"k":8,"t":50,"y":-7.95},{"k":8,"t":52.5,"y":-8.01},{"k":8,"t":55,"y":-7.98},{"k":8,"t":57.5,"y":-7.96},{"k":8,"t":60,"y":-8.03},{"k":8,"t":62.5,"y":-7.97},{"k":8,"t":65,"y":-7.95},{"k":8,"t":67.5,"y":-8.02},{"k":8,"t":70,"y":-7.99},{"k":8,"t":72.5,"y":-8.03},{"k":8,"t":75,"y":-7.96},{"k":8,"t":77.5,"y":-7.98},{"k":8,"t":80,"y":-8.02},{"k":8,"t":82.5,"y":-7.95},{"k":8,"t":85,"y":-8.01},{"k":8,"t":87.5,"y":-7.97},{"k":8,"t":90,"y":-8.04},{"k":8,"t":92.5,"y":-7.98},{"k":8,"t":95,"y":-7.96},{"k":8,"t":97.5,"y":-8.02},{"k":8,"t":100,"y":-7.97},{"k":8,"t":102.5,"y":-7.99},{"k":8,"t":105,"y":-8.03},{"k":8,"t":107.5,"y":-7.95},{"k":8,"t":110,"y":-8.02},{"k":8,"t":112.5,"y":-7.98},{"k":8,"t":115,"y":-7.96},{"k":8,"t":117.5,"y":-8.03},{"k":8,"t":120,"y":-7.99},
{"k":9,"t":0,"y":-8.99},{"k":9,"t":2.5,"y":-8.96},{"k":9,"t":5,"y":-9.03},{"k":9,"t":7.5,"y":-8.98},{"k":9,"t":10,"y":-9.02},{"k":9,"t":12.5,"y":-8.95},{"k":9,"t":15,"y":-8.99},{"k":9,"t":17.5,"y":-9.04},{"k":9,"t":20,"y":-8.97},{"k":9,"t":22.5,"y":-8.98},{"k":9,"t":25,"y":-9.02},{"k":9,"t":27.5,"y":-8.96},{"k":9,"t":30,"y":-9.03},{"k":9,"t":32.5,"y":-8.95},{"k":9,"t":35,"y":-8.98},{"k":9,"t":37.5,"y":-9.01},{"k":9,"t":40,"y":-8.97},{"k":9,"t":42.5,"y":-9.04},{"k":9,"t":45,"y":-8.96},{"k":9,"t":47.5,"y":-8.99},{"k":9,"t":50,"y":-9.02},{"k":9,"t":52.5,"y":-8.95},{"k":9,"t":55,"y":-9.03},{"k":9,"t":57.5,"y":-8.98},{"k":9,"t":60,"y":-8.97},{"k":9,"t":62.5,"y":-9.02},{"k":9,"t":65,"y":-8.96},{"k":9,"t":67.5,"y":-9.01},{"k":9,"t":70,"y":-8.95},{"k":9,"t":72.5,"y":-9.03},{"k":9,"t":75,"y":-8.98},{"k":9,"t":77.5,"y":-8.97},{"k":9,"t":80,"y":-9.04},{"k":9,"t":82.5,"y":-8.99},{"k":9,"t":85,"y":-8.96},{"k":9,"t":87.5,"y":-9.02},{"k":9,"t":90,"y":-8.95},{"k":9,"t":92.5,"y":-8.98},{"k":9,"t":95,"y":-9.03},{"k":9,"t":97.5,"y":-8.97},{"k":9,"t":100,"y":-9.01},{"k":9,"t":102.5,"y":-8.96},{"k":9,"t":105,"y":-8.98},{"k":9,"t":107.5,"y":-9.04},{"k":9,"t":110,"y":-8.97},{"k":9,"t":112.5,"y":-8.99},{"k":9,"t":115,"y":-9.02},{"k":9,"t":117.5,"y":-8.95},{"k":9,"t":120,"y":-8.98},
{"k":10,"t":0,"y":-10.03},{"k":10,"t":2.5,"y":-9.98},{"k":10,"t":5,"y":-9.95},{"k":10,"t":7.5,"y":-10.02},{"k":10,"t":10,"y":-9.97},{"k":10,"t":12.5,"y":-10.01},{"k":10,"t":15,"y":-9.96},{"k":10,"t":17.5,"y":-10.03},{"k":10,"t":20,"y":-9.98},{"k":10,"t":22.5,"y":-9.95},{"k":10,"t":25,"y":-9.99},{"k":10,"t":27.5,"y":-10.04},{"k":10,"t":30,"y":-9.97},{"k":10,"t":32.5,"y":-10.02},{"k":10,"t":35,"y":-9.96},{"k":10,"t":37.5,"y":-9.98},{"k":10,"t":40,"y":-10.03},{"k":10,"t":42.5,"y":-9.95},{"k":10,"t":45,"y":-10.01},{"k":10,"t":47.5,"y":-9.98},{"k":10,"t":50,"y":-9.96},{"k":10,"t":52.5,"y":-10.03},{"k":10,"t":55,"y":-9.99},{"k":10,"t":57.5,"y":-9.95},{"k":10,"t":60,"y":-10.02},{"k":10,"t":62.5,"y":-9.97},{"k":10,"t":65,"y":-10.04},{"k":10,"t":67.5,"y":-9.98},{"k":10,"t":70,"y":-9.96},{"k":10,"t":72.5,"y":-10.01},{"k":10,"t":75,"y":-9.97},{"k":10,"t":77.5,"y":-9.95},{"k":10,"t":80,"y":-10.03},{"k":10,"t":82.5,"y":-9.98},{"k":10,"t":85,"y":-10.02},{"k":10,"t":87.5,"y":-9.96},{"k":10,"t":90,"y":-9.99},{"k":10,"t":92.5,"y":-10.03},{"k":10,"t":95,"y":-9.95},{"k":10,"t":97.5,"y":-10.02},{"k":10,"t":100,"y":-9.97},{"k":10,"t":102.5,"y":-9.98},{"k":10,"t":105,"y":-10.04},{"k":10,"t":107.5,"y":-9.96},{"k":10,"t":110,"y":-10.01},{"k":10,"t":112.5,"y":-9.97},{"k":10,"t":115,"y":-10.02},{"k":10,"t":117.5,"y":-9.95},{"k":10,"t":120,"y":-9.99},
{"k":11,"t":0,"y":-10.97},{"k":11,"t":2.5,"y":-11.02},{"k":11,"t":5,"y":-10.96},{"k":11,"t":7.5,"y":-10.99},{"k":11,"t":10,"y":-11.04},{"k":11,"t":12.5,"y":-10.97},{"k":11,"t":15,"y":-11.01},{"k":11,"t":17.5,"y":-10.95},{"k":11,"t":20,"y":-11.02},{"k":11,"t":22.5,"y":-10.98},{"k":11,"t":25,"y":-10.96},{"k":11,"t":27.5,"y":-11.03},{"k":11,"t":30,"y":-10.98},{"k":11,"t":32.5,"y":-11.01},{"k":11,"t":35,"y":-10.95},{"k":11,"t":37.5,"y":-10.98},{"k":11,"t":40,"y":-11.03},{"k":11,"t":42.5,"y":-10.97},{"k":11,"t":45,"y":-11.02},{"k":11,"t":47.5,"y":-10.96},{"k":11,"t":50,"y":-10.99},{"k":11,"t":52.5,"y":-11.04},{"k":11,"t":55,"y":-10.95},{"k":11,"t":57.5,"y":-11.01},{"k":11,"t":60,"y":-10.97},{"k":11,"t":62.5,"y":-10.98},{"k":11,"t":65,"y":-11.03},{"k":11,"t":67.5,"y":-10.96},{"k":11,"t":70,"y":-11.02},{"k":11,"t":72.5,"y":-10.99},{"k":11,"t":75,"y":-10.95},{"k":11,"t":77.5,"y":-11.03},{"k":11,"t":80,"y":-10.98},{"k":11,"t":82.5,"y":-10.96},{"k":11,"t":85,"y":-11.01},{"k":11,"t":87.5,"y":-10.97},{"k":11,"t":90,"y":-11.04},{"k":11,"t":92.5,"y":-10.95},{"k":11,"t":95,"y":-10.99},{"k":11,"t":97.5,"y":-11.02},{"k":11,"t":100,"y":-10.97},{"k":11,"t":102.5,"y":-11.03},{"k":11,"t":105,"y":-10.96},{"k":11,"t":107.5,"y":-10.98},{"k":11,"t":110,"y":-11.02},{"k":11,"t":112.5,"y":-10.95},{"k":11,"t":115,"y":-11.01},{"k":11,"t":117.5,"y":-10.98},{"k":11,"t":120,"y":-10.97},
{"k":12,"t":0,"y":-12.01},{"k":12,"t":2.5,"y":-11.97},{"k":12,"t":5,"y":-12.03},{"k":12,"t":7.5,"y":-11.95},{"k":12,"t":10,"y":-11.98},{"k":12,"t":12.5,"y":-12.02},{"k":12,"t":15,"y":-11.96},{"k":12,"t":17.5,"y":-12.04},{"k":12,"t":20,"y":-11.98},{"k":12,"t":22.5,"y":-11.97},{"k":12,"t":25,"y":-12.01},{"k":12,"t":27.5,"y":-11.95},{"k":12,"t":30,"y":-12.03},{"k":12,"t":32.5,"y":-11.98},{"k":12,"t":35,"y":-11.96},{"k":12,"t":37.5,"y":-12.02},{"k":12,"t":40,"y":-11.99},{"k":12,"t":42.5,"y":-11.95},{"k":12,"t":45,"y":-12.04},{"k":12,"t":47.5,"y":-11.97},{"k":12,"t":50,"y":-12.01},{"k":12,"t":52.5,"y":-11.96},{"k":12,"t":55,"y":-11.98},{"k":12,"t":57.5,"y":-12.03},{"k":12,"t":60,"y":-11.95},{"k":12,"t":62.5,"y":-12.02},{"k":12,"t":65,"y":-11.97},{"k":12,"t":67.5,"y":-11.99},{"k":12,"t":70,"y":-12.04},{"k":12,"t":72.5,"y":-11.96},{"k":12,"t":75,"y":-12.01},{"k":12,"t":77.5,"y":-11.98},{"k":12,"t":80,"y":-11.95},{"k":12,"t":82.5,"y":-12.03},{"k":12,"t":85,"y":-11.97},{"k":12,"t":87.5,"y":-12.02},{"k":12,"t":90,"y":-11.96},{"k":12,"t":92.5,"y":-11.99},{"k":12,"t":95,"y":-12.03},{"k":12,"t":97.5,"y":-11.95},{"k":12,"t":100,"y":-12.02},{"k":12,"t":102.5,"y":-11.98},{"k":12,"t":105,"y":-11.96},{"k":12,"t":107.5,"y":-12.04},{"k":12,"t":110,"y":-11.97},{"k":12,"t":112.5,"y":-11.99},{"k":12,"t":115,"y":-12.02},{"k":12,"t":117.5,"y":-11.96},{"k":12,"t":120,"y":-12.01},
{"k":13,"t":0,"y":-12.98},{"k":13,"t":2.5,"y":-13.03},{"k":13,"t":5,"y":-12.96},{"k":13,"t":7.5,"y":-13.01},{"k":13,"t":10,"y":-12.97},{"k":13,"t":12.5,"y":-12.95},{"k":13,"t":15,"y":-13.02},{"k":13,"t":17.5,"y":-12.98},{"k":13,"t":20,"y":-13.04},{"k":13,"t":22.5,"y":-12.96},{"k":13,"t":25,"y":-12.99},{"k":13,"t":27.5,"y":-13.02},{"k":13,"t":30,"y":-12.95},{"k":13,"t":32.5,"y":-13.03},{"k":13,"t":35,"y":-12.97},{"k":13,"t":37.5,"y":-12.98},{"k":13,"t":40,"y":-13.04},{"k":13,"t":42.5,"y":-12.96},{"k":13,"t":45,"y":-13.01},{"k":13,"t":47.5,"y":-12.95},{"k":13,"t":50,"y":-12.98},{"k":13,"t":52.5,"y":-13.03},{"k":13,"t":55,"y":-12.97},{"k":13,"t":57.5,"y":-13.02},{"k":13,"t":60,"y":-12.96},{"k":13,"t":62.5,"y":-12.99},{"k":13,"t":65,"y":-13.04},{"k":13,"t":67.5,"y":-12.95},{"k":13,"t":70,"y":-13.02},{"k":13,"t":72.5,"y":-12.97},{"k":13,"t":75,"y":-12.98},{"k":13,"t":77.5,"y":-13.03},{"k":13,"t":80,"y":-12.96},{"k":13,"t":82.5,"y":-13.01},{"k":13,"t":85,"y":-12.95},{"k":13,"t":87.5,"y":-13.02},{"k":13,"t":90,"y":-12.98},{"k":13,"t":92.5,"y":-12.96},{"k":13,"t":95,"y":-13.03},{"k":13,"t":97.5,"y":-12.97},{"k":13,"t":100,"y":-13.01},{"k":13,"t":102.5,"y":-12.95},{"k":13,"t":105,"y":-12.98},{"k":13,"t":107.5,"y":-13.04},{"k":13,"t":110,"y":-12.97},{"k":13,"t":112.5,"y":-13.02},{"k":13,"t":115,"y":-12.96},{"k":13,"t":117.5,"y":-12.99},{"k":13,"t":120,"y":-13.02}
],
"B":[
{"k":0,"t":0,"y":0.02},{"k":0,"t":1,"y":0.03},{"k":0,"t":2,"y":0.01},{"k":0,"t":3,"y":-0.01},{"k":0,"t":4,"y":0},{"k":0,"t":5,"y":0.02},{"k":0,"t":6,"y":0.04},{"k":0,"t":7,"y":0.03},{"k":0,"t":8,"y":0.01},{"k":0,"t":9,"y":-0.01},{"k":0,"t":10,"y":-0.02},{"k":0,"t":11,"y":0},{"k":0,"t":12,"y":0.03},{"k":0,"t":13,"y":0.02},{"k":0,"t":14,"y":-0.01},{"k":0,"t":15,"y":-0.04},{"k":0,"t":16,"y":-0.03},{"k":0,"t":17,"y":0.02},{"k":0,"t":18,"y":0.08},{"k":0,"t":19,"y":0.13},{"k":0,"t":20,"y":0.15},{"k":0,"t":21,"y":0.1},{"k":0,"t":22,"y":0.03},{"k":0,"t":23,"y":-0.01},{"k":0,"t":24,"y":0},{"k":0,"t":25,"y":0.02},{"k":0,"t":26,"y":0.03},{"k":0,"t":27,"y":0.01},{"k":0,"t":28,"y":-0.02},{"k":0,"t":29,"y":0},{"k":0,"t":30,"y":0.03},{"k":0,"t":31,"y":0.02},{"k":0,"t":32,"y":-0.02},{"k":0,"t":33,"y":-0.05},{"k":0,"t":34,"y":-0.03},{"k":0,"t":35,"y":0.01},{"k":0,"t":36,"y":0.04},{"k":0,"t":37,"y":0.06},{"k":0,"t":38,"y":0.05},{"k":0,"t":39,"y":0.02},{"k":0,"t":40,"y":0},{"k":0,"t":41,"y":0.03},{"k":0,"t":42,"y":0.05},{"k":0,"t":43,"y":0.02},{"k":0,"t":44,"y":-0.04},{"k":0,"t":45,"y":-0.08},{"k":0,"t":46,"y":-0.06},{"k":0,"t":47,"y":-0.01},{"k":0,"t":48,"y":0.02},{"k":0,"t":49,"y":0},{"k":0,"t":50,"y":-0.06},{"k":0,"t":51,"y":-0.12},{"k":0,"t":52,"y":-0.1},{"k":0,"t":53,"y":-0.03},{"k":0,"t":54,"y":0.03},{"k":0,"t":55,"y":0.06},{"k":0,"t":56,"y":0.04},{"k":0,"t":57,"y":0.02},{"k":0,"t":58,"y":0.05},{"k":0,"t":59,"y":0.07},{"k":0,"t":60,"y":0.04},
{"k":1,"t":0,"y":-1.02},{"k":1,"t":1,"y":-1},{"k":1,"t":2,"y":-0.97},{"k":1,"t":3,"y":-0.95},{"k":1,"t":4,"y":-0.97},{"k":1,"t":5,"y":-1},{"k":1,"t":6,"y":-1.02},{"k":1,"t":7,"y":-0.99},{"k":1,"t":8,"y":-0.96},{"k":1,"t":9,"y":-0.98},{"k":1,"t":10,"y":-1.01},{"k":1,"t":11,"y":-1},{"k":1,"t":12,"y":-0.97},{"k":1,"t":13,"y":-0.99},{"k":1,"t":14,"y":-1.04},{"k":1,"t":15,"y":-1.07},{"k":1,"t":16,"y":-1.05},{"k":1,"t":17,"y":-1},{"k":1,"t":18,"y":-0.96},{"k":1,"t":19,"y":-0.93},{"k":1,"t":20,"y":-0.95},{"k":1,"t":21,"y":-0.98},{"k":1,"t":22,"y":-1.01},{"k":1,"t":23,"y":-0.99},{"k":1,"t":24,"y":-0.96},{"k":1,"t":25,"y":-0.97},{"k":1,"t":26,"y":-1},{"k":1,"t":27,"y":-0.96},{"k":1,"t":28,"y":-0.92},{"k":1,"t":29,"y":-0.94},{"k":1,"t":30,"y":-0.98},{"k":1,"t":31,"y":-1.02},{"k":1,"t":32,"y":-1},{"k":1,"t":33,"y":-0.97},{"k":1,"t":34,"y":-0.99},{"k":1,"t":35,"y":-1.03},{"k":1,"t":36,"y":-1.05},{"k":1,"t":37,"y":-1.02},{"k":1,"t":38,"y":-0.98},{"k":1,"t":39,"y":-0.96},{"k":1,"t":40,"y":-0.99},{"k":1,"t":41,"y":-1.03},{"k":1,"t":42,"y":-1.06},{"k":1,"t":43,"y":-1.03},{"k":1,"t":44,"y":-0.99},{"k":1,"t":45,"y":-0.96},{"k":1,"t":46,"y":-0.98},{"k":1,"t":47,"y":-1.01},{"k":1,"t":48,"y":-0.98},{"k":1,"t":49,"y":-0.95},{"k":1,"t":50,"y":-0.97},{"k":1,"t":51,"y":-1.02},{"k":1,"t":52,"y":-1.04},{"k":1,"t":53,"y":-1.01},{"k":1,"t":54,"y":-0.98},{"k":1,"t":55,"y":-1},{"k":1,"t":56,"y":-1.03},{"k":1,"t":57,"y":-1},{"k":1,"t":58,"y":-0.97},{"k":1,"t":59,"y":-0.99},{"k":1,"t":60,"y":-1.01},
{"k":2,"t":0,"y":-1.98},{"k":2,"t":0.5,"y":-2.05},{"k":2,"t":1,"y":-1.94},{"k":2,"t":1.5,"y":-2.02},{"k":2,"t":2,"y":-1.96},{"k":2,"t":2.5,"y":-2.06},{"k":2,"t":3,"y":-1.97},{"k":2,"t":3.5,"y":-1.93},{"k":2,"t":4,"y":-2.03},{"k":2,"t":4.5,"y":-1.95},{"k":2,"t":5,"y":-2.04},{"k":2,"t":5.5,"y":-1.98},{"k":2,"t":6,"y":-1.94},{"k":2,"t":6.5,"y":-2.05},{"k":2,"t":7,"y":-1.97},{"k":2,"t":7.5,"y":-2.02},{"k":2,"t":8,"y":-1.95},{"k":2,"t":8.5,"y":-1.92},{"k":2,"t":9,"y":-2.03},{"k":2,"t":9.5,"y":-1.96},{"k":2,"t":10,"y":-2.05},{"k":2,"t":10.5,"y":-1.98},{"k":2,"t":11,"y":-1.94},{"k":2,"t":11.5,"y":-2.02},{"k":2,"t":12,"y":-1.96},{"k":2,"t":12.5,"y":-2.04},{"k":2,"t":13,"y":-1.97},
{"k":2,"t":14,"y":-1.98},{"k":2,"t":15,"y":-1.95},{"k":2,"t":16,"y":-1.99},{"k":2,"t":17,"y":-1.96},{"k":2,"t":18,"y":-1.93},{"k":2,"t":19,"y":-1.97},{"k":2,"t":20,"y":-1.94},{"k":2,"t":21,"y":-1.9},{"k":2,"t":22,"y":-1.84},{"k":2,"t":23,"y":-1.78},{"k":2,"t":24,"y":-1.74},{"k":2,"t":25,"y":-1.7},{"k":2,"t":26,"y":-1.72},{"k":2,"t":27,"y":-1.68},{"k":2,"t":28,"y":-1.65},{"k":2,"t":29,"y":-1.67},{"k":2,"t":30,"y":-1.64},{"k":2,"t":31,"y":-1.7},{"k":2,"t":32,"y":-1.8},{"k":2,"t":33,"y":-1.9},{"k":2,"t":34,"y":-1.98},{"k":2,"t":35,"y":-2.03},{"k":2,"t":36,"y":-2},{"k":2,"t":37,"y":-1.97},{"k":2,"t":38,"y":-1.95},{"k":2,"t":39,"y":-1.98},{"k":2,"t":40,"y":-2},{"k":2,"t":41,"y":-1.96},{"k":2,"t":42,"y":-1.88},{"k":2,"t":43,"y":-1.7},{"k":2,"t":44,"y":-1.78},{"k":2,"t":45,"y":-1.92},{"k":2,"t":46,"y":-1.97},{"k":2,"t":47,"y":-2},{"k":2,"t":48,"y":-2.02},{"k":2,"t":49,"y":-1.98},{"k":2,"t":50,"y":-1.95},{"k":2,"t":51,"y":-1.97},{"k":2,"t":52,"y":-2.01},{"k":2,"t":53,"y":-2.03},{"k":2,"t":54,"y":-2},{"k":2,"t":55,"y":-1.98},{"k":2,"t":56,"y":-2.02},{"k":2,"t":57,"y":-2.04},{"k":2,"t":58,"y":-2},{"k":2,"t":59,"y":-1.97},{"k":2,"t":60,"y":-1.99},
{"k":3,"t":0,"y":-2.95},{"k":3,"t":0.3,"y":-3.08},{"k":3,"t":0.6,"y":-2.88},{"k":3,"t":0.9,"y":-3.03},{"k":3,"t":1.2,"y":-2.9},{"k":3,"t":1.5,"y":-3.12},{"k":3,"t":1.8,"y":-2.94},{"k":3,"t":2.1,"y":-2.85},{"k":3,"t":2.4,"y":-3.05},{"k":3,"t":2.7,"y":-2.92},{"k":3,"t":3,"y":-3.1},{"k":3,"t":3.3,"y":-2.96},{"k":3,"t":3.6,"y":-2.87},{"k":3,"t":3.9,"y":-3.06},{"k":3,"t":4.2,"y":-2.91},{"k":3,"t":4.5,"y":-3.14},{"k":3,"t":4.8,"y":-2.95},{"k":3,"t":5.1,"y":-2.89},{"k":3,"t":5.4,"y":-3.04},{"k":3,"t":5.7,"y":-2.93},{"k":3,"t":6,"y":-3.09},{"k":3,"t":6.3,"y":-2.86},{"k":3,"t":6.6,"y":-3.02},{"k":3,"t":6.9,"y":-2.94},{"k":3,"t":7.2,"y":-3.11},{"k":3,"t":7.5,"y":-2.92},{"k":3,"t":7.8,"y":-2.97},{"k":3,"t":8.1,"y":-3.07},{"k":3,"t":8.4,"y":-2.88},{"k":3,"t":8.7,"y":-3.05},{"k":3,"t":9,"y":-2.91},{"k":3,"t":9.3,"y":-3.13},{"k":3,"t":9.6,"y":-2.96},{"k":3,"t":9.9,"y":-2.9},{"k":3,"t":10.2,"y":-3.06},{"k":3,"t":10.5,"y":-2.98},{"k":3,"t":10.8,"y":-2.89},{"k":3,"t":11.1,"y":-3.08},{"k":3,"t":11.4,"y":-2.95},{"k":3,"t":11.7,"y":-3.03},{"k":3,"t":12,"y":-2.9},{"k":3,"t":12.3,"y":-3.07},{"k":3,"t":12.6,"y":-2.94},{"k":3,"t":12.9,"y":-3.02},
{"k":3,"t":13,"y":-1.7},{"k":3,"t":13.25,"y":-3.8},{"k":3,"t":13.5,"y":-2.6},{"k":3,"t":13.75,"y":-3.35},{"k":3,"t":14,"y":-2.55},{"k":3,"t":14.25,"y":-3.2},{"k":3,"t":14.5,"y":-2.7},{"k":3,"t":14.75,"y":-3.45},{"k":3,"t":15,"y":-2.65},{"k":3,"t":15.25,"y":-3.25},{"k":3,"t":15.5,"y":-2.5},{"k":3,"t":15.75,"y":-3.3},{"k":3,"t":16,"y":-2.8},{"k":3,"t":16.25,"y":-3.4},{"k":3,"t":16.5,"y":-2.55},{"k":3,"t":16.75,"y":-3.15},{"k":3,"t":17,"y":-2.7},{"k":3,"t":17.25,"y":-3.45},{"k":3,"t":17.5,"y":-2.6},{"k":3,"t":17.75,"y":-3.3},{"k":3,"t":18,"y":-2.45},{"k":3,"t":18.25,"y":-3.2},{"k":3,"t":18.5,"y":-2.65},{"k":3,"t":18.75,"y":-3.5},{"k":3,"t":19,"y":-2.7},{"k":3,"t":19.25,"y":-3.35},{"k":3,"t":19.5,"y":-1.8},{"k":3,"t":19.75,"y":-3.6},{"k":3,"t":20,"y":-2.5},{"k":3,"t":20.25,"y":-4},{"k":3,"t":20.5,"y":-2.1},{"k":3,"t":20.75,"y":-3.4},{"k":3,"t":21,"y":-2.55},{"k":3,"t":21.25,"y":-3.55},{"k":3,"t":21.5,"y":-2.2},{"k":3,"t":21.75,"y":-3.3},{"k":3,"t":22,"y":-2.6},{"k":3,"t":22.25,"y":-3.5},{"k":3,"t":22.5,"y":-2.65},{"k":3,"t":22.75,"y":-3.25},{"k":3,"t":23,"y":-2.5},{"k":3,"t":23.25,"y":-3.4},{"k":3,"t":23.5,"y":-2.7},{"k":3,"t":23.75,"y":-3.45},{"k":3,"t":24,"y":-2.65},{"k":3,"t":24.25,"y":-3.3},{"k":3,"t":24.5,"y":-2.5},{"k":3,"t":24.75,"y":-3.35},{"k":3,"t":25,"y":-2.6},
{"k":3,"t":25.2,"y":-3.8},{"k":3,"t":25.4,"y":-1.8},{"k":3,"t":25.6,"y":-0.5},{"k":3,"t":25.8,"y":-4.5},{"k":3,"t":26,"y":-1.6},{"k":3,"t":26.2,"y":-5.7},{"k":3,"t":26.4,"y":-1.4},{"k":3,"t":26.6,"y":-4.8},{"k":3,"t":26.8,"y":-1.9},{"k":3,"t":27,"y":-4.3},{"k":3,"t":27.2,"y":-1.3},{"k":3,"t":27.4,"y":-4},{"k":3,"t":27.6,"y":-1.8},{"k":3,"t":27.8,"y":-4.6},{"k":3,"t":28,"y":-1.2},{"k":3,"t":28.2,"y":-3.9},{"k":3,"t":28.4,"y":-1.3},{"k":3,"t":28.6,"y":-4.2},{"k":3,"t":28.8,"y":-2.1},{"k":3,"t":29,"y":-4},{"k":3,"t":29.2,"y":-2.2},{"k":3,"t":29.4,"y":-4.4},{"k":3,"t":29.6,"y":-2.3},{"k":3,"t":29.8,"y":-1.6},{"k":3,"t":30,"y":-3.8},{"k":3,"t":30.2,"y":-2.4},{"k":3,"t":30.4,"y":-3.9},{"k":3,"t":30.6,"y":-2.3},{"k":3,"t":30.8,"y":-3.6},{"k":3,"t":31,"y":-2.2},
{"k":3,"t":31.3,"y":-3.5},{"k":3,"t":31.6,"y":-2},{"k":3,"t":31.9,"y":-3.4},{"k":3,"t":32.2,"y":-2.4},{"k":3,"t":32.5,"y":-3.55},{"k":3,"t":32.8,"y":-2.65},{"k":3,"t":33.1,"y":-3.6},{"k":3,"t":33.4,"y":-2.5},{"k":3,"t":33.7,"y":-3.3},{"k":3,"t":34,"y":-2.55},
{"k":3,"t":34.3,"y":-3.5},{"k":3,"t":34.6,"y":-2.6},{"k":3,"t":34.9,"y":-3.35},{"k":3,"t":35.2,"y":-2.7},{"k":3,"t":35.5,"y":-3.45},{"k":3,"t":35.8,"y":-2.65},{"k":3,"t":36.1,"y":-3.25},{"k":3,"t":36.4,"y":-2.6},{"k":3,"t":36.7,"y":-3.3},{"k":3,"t":37,"y":-2.75},
{"k":3,"t":37.3,"y":-3.35},{"k":3,"t":37.6,"y":-2.7},{"k":3,"t":37.9,"y":-3.2},{"k":3,"t":38.2,"y":-2.65},{"k":3,"t":38.5,"y":-3.3},{"k":3,"t":38.8,"y":-2.8},{"k":3,"t":39.1,"y":-3.25},{"k":3,"t":39.4,"y":-2.65},{"k":3,"t":39.7,"y":-3.2},{"k":3,"t":40,"y":-2.7},
{"k":3,"t":40.3,"y":-3.3},{"k":3,"t":40.6,"y":-2.75},{"k":3,"t":40.9,"y":-3.35},{"k":3,"t":41.2,"y":-2.8},{"k":3,"t":41.5,"y":-3.25},{"k":3,"t":41.8,"y":-2.7},{"k":3,"t":42.1,"y":-3.15},{"k":3,"t":42.4,"y":-2.75},{"k":3,"t":42.7,"y":-3.3},{"k":3,"t":43,"y":-2.8},
{"k":3,"t":43.3,"y":-3.2},{"k":3,"t":43.6,"y":-2.7},{"k":3,"t":43.9,"y":-3.25},{"k":3,"t":44.2,"y":-2.85},{"k":3,"t":44.5,"y":-3.3},{"k":3,"t":44.8,"y":-2.75},{"k":3,"t":45.1,"y":-3.2},{"k":3,"t":45.4,"y":-2.7},{"k":3,"t":45.7,"y":-3.15},{"k":3,"t":46,"y":-2.75},
{"k":3,"t":46.3,"y":-3.25},{"k":3,"t":46.6,"y":-2.8},{"k":3,"t":46.9,"y":-3.3},{"k":3,"t":47.2,"y":-2.75},{"k":3,"t":47.5,"y":-3.2},{"k":3,"t":47.8,"y":-2.85},{"k":3,"t":48.1,"y":-3.25},{"k":3,"t":48.4,"y":-2.7},{"k":3,"t":48.7,"y":-3.2},{"k":3,"t":49,"y":-2.75},
{"k":3,"t":49.3,"y":-3.3},{"k":3,"t":49.6,"y":-2.8},{"k":3,"t":49.9,"y":-3.15},{"k":3,"t":50.2,"y":-2.75},{"k":3,"t":50.5,"y":-3.25},{"k":3,"t":50.8,"y":-2.7},{"k":3,"t":51.1,"y":-3.2},{"k":3,"t":51.4,"y":-2.85},{"k":3,"t":51.7,"y":-3.3},{"k":3,"t":52,"y":-2.8},
{"k":3,"t":52.3,"y":-3.2},{"k":3,"t":52.6,"y":-2.75},{"k":3,"t":52.9,"y":-3.3},{"k":3,"t":53.2,"y":-2.8},{"k":3,"t":53.5,"y":-3.25},{"k":3,"t":53.8,"y":-2.7},{"k":3,"t":54.1,"y":-3.15},{"k":3,"t":54.4,"y":-2.8},{"k":3,"t":54.7,"y":-3.35},{"k":3,"t":55,"y":-2.75},
{"k":3,"t":55.3,"y":-3.2},{"k":3,"t":55.6,"y":-2.7},{"k":3,"t":55.9,"y":-3.25},{"k":3,"t":56.2,"y":-2.8},{"k":3,"t":56.5,"y":-3.3},{"k":3,"t":56.8,"y":-2.65},{"k":3,"t":57.1,"y":-3.4},{"k":3,"t":57.4,"y":-2.7},{"k":3,"t":57.7,"y":-3.45},{"k":3,"t":58,"y":-2.6},
{"k":3,"t":58.3,"y":-3.5},{"k":3,"t":58.6,"y":-2.55},{"k":3,"t":58.9,"y":-3.55},{"k":3,"t":59.2,"y":-2.5},{"k":3,"t":59.5,"y":-3.4},{"k":3,"t":59.8,"y":-2.45},{"k":3,"t":60,"y":-3.3},
{"k":4,"t":0,"y":-3.9},{"k":4,"t":0.3,"y":-3.65},{"k":4,"t":0.6,"y":-4.2},{"k":4,"t":0.9,"y":-3.6},{"k":4,"t":1.2,"y":-3.95},{"k":4,"t":1.5,"y":-4.3},{"k":4,"t":1.8,"y":-4.85},{"k":4,"t":2.1,"y":-4.2},{"k":4,"t":2.4,"y":-3.7},{"k":4,"t":2.7,"y":-4.1},{"k":4,"t":3,"y":-3.55},{"k":4,"t":3.3,"y":-3.9},{"k":4,"t":3.6,"y":-4.25},{"k":4,"t":3.9,"y":-3.8},{"k":4,"t":4.2,"y":-4.35},{"k":4,"t":4.5,"y":-3.85},{"k":4,"t":4.8,"y":-3.6},{"k":4,"t":5.1,"y":-4.05},{"k":4,"t":5.4,"y":-3.7},{"k":4,"t":5.7,"y":-4.2},{"k":4,"t":6,"y":-3.9},{"k":4,"t":6.3,"y":-3.65},{"k":4,"t":6.6,"y":-4.3},{"k":4,"t":6.9,"y":-3.8},{"k":4,"t":7.2,"y":-3.55},{"k":4,"t":7.5,"y":-4.1},{"k":4,"t":7.8,"y":-3.75},{"k":4,"t":8.1,"y":-4.4},{"k":4,"t":8.4,"y":-3.9},{"k":4,"t":8.7,"y":-3.65},{"k":4,"t":9,"y":-4.15},{"k":4,"t":9.3,"y":-3.7},{"k":4,"t":9.6,"y":-3.95},{"k":4,"t":9.9,"y":-4.3},{"k":4,"t":10.2,"y":-3.8},{"k":4,"t":10.5,"y":-3.9},{"k":4,"t":10.8,"y":-4.2},{"k":4,"t":11.1,"y":-3.65},{"k":4,"t":11.4,"y":-4.1},{"k":4,"t":11.7,"y":-4.45},{"k":4,"t":12,"y":-3.95},{"k":4,"t":12.3,"y":-3.8},{"k":4,"t":12.6,"y":-4.15},{"k":4,"t":12.9,"y":-3.9},{"k":4,"t":13.2,"y":-4.05},{"k":4,"t":13.5,"y":-3.85},{"k":4,"t":13.8,"y":-4.1},{"k":4,"t":14.1,"y":-3.92},{"k":4,"t":14.4,"y":-4.06},{"k":4,"t":14.7,"y":-3.9},{"k":4,"t":15,"y":-4.05},
{"k":4,"t":16,"y":-3.94},{"k":4,"t":17,"y":-4.04},{"k":4,"t":18,"y":-3.92},{"k":4,"t":19,"y":-3.98},{"k":4,"t":20,"y":-4.06},{"k":4,"t":21,"y":-3.95},{"k":4,"t":22,"y":-4.03},{"k":4,"t":23,"y":-3.93},{"k":4,"t":24,"y":-3.99},{"k":4,"t":25,"y":-4.05},{"k":4,"t":26,"y":-3.96},{"k":4,"t":27,"y":-4.02},{"k":4,"t":28,"y":-3.94},{"k":4,"t":29,"y":-4.04},{"k":4,"t":30,"y":-3.97},{"k":4,"t":31,"y":-3.93},{"k":4,"t":32,"y":-4.02},{"k":4,"t":33,"y":-3.96},{"k":4,"t":34,"y":-4.05},{"k":4,"t":35,"y":-3.98},{"k":4,"t":36,"y":-3.94},{"k":4,"t":37,"y":-4.03},{"k":4,"t":38,"y":-3.98},{"k":4,"t":39,"y":-3.95},{"k":4,"t":40,"y":-4.04},{"k":4,"t":41,"y":-3.97},{"k":4,"t":42,"y":-4},{"k":4,"t":43,"y":-4.05},{"k":4,"t":44,"y":-4.08},{"k":4,"t":45,"y":-4.03},{"k":4,"t":46,"y":-3.96},{"k":4,"t":47,"y":-3.98},{"k":4,"t":48,"y":-4.03},{"k":4,"t":49,"y":-3.95},{"k":4,"t":50,"y":-3.99},{"k":4,"t":51,"y":-4.04},{"k":4,"t":52,"y":-3.97},{"k":4,"t":53,"y":-3.94},{"k":4,"t":54,"y":-4.02},{"k":4,"t":55,"y":-3.96},{"k":4,"t":56,"y":-4.03},{"k":4,"t":57,"y":-3.98},{"k":4,"t":58,"y":-3.95},{"k":4,"t":59,"y":-4.02},{"k":4,"t":60,"y":-3.97},
{"k":5,"t":0,"y":-5},{"k":5,"t":1,"y":-4.98},{"k":5,"t":2,"y":-4.96},{"k":5,"t":3,"y":-4.98},{"k":5,"t":4,"y":-5.01},{"k":5,"t":5,"y":-4.99},{"k":5,"t":6,"y":-4.97},{"k":5,"t":7,"y":-4.99},{"k":5,"t":8,"y":-5.02},{"k":5,"t":9,"y":-5},{"k":5,"t":10,"y":-4.97},{"k":5,"t":11,"y":-4.98},{"k":5,"t":12,"y":-5.02},{"k":5,"t":13,"y":-5.05},{"k":5,"t":14,"y":-5.06},{"k":5,"t":15,"y":-5.02},{"k":5,"t":16,"y":-4.98},{"k":5,"t":17,"y":-4.96},{"k":5,"t":18,"y":-4.98},{"k":5,"t":19,"y":-5},{"k":5,"t":20,"y":-4.98},{"k":5,"t":21,"y":-4.95},{"k":5,"t":22,"y":-4.97},{"k":5,"t":23,"y":-5},{"k":5,"t":24,"y":-5.02},{"k":5,"t":25,"y":-4.99},{"k":5,"t":26,"y":-4.97},{"k":5,"t":27,"y":-4.95},{"k":5,"t":28,"y":-4.98},{"k":5,"t":29,"y":-5.01},{"k":5,"t":30,"y":-5},{"k":5,"t":31,"y":-5.03},{"k":5,"t":32,"y":-5.01},{"k":5,"t":33,"y":-4.98},{"k":5,"t":34,"y":-4.96},{"k":5,"t":35,"y":-4.98},{"k":5,"t":36,"y":-5.01},{"k":5,"t":37,"y":-4.99},{"k":5,"t":38,"y":-4.96},{"k":5,"t":39,"y":-4.92},{"k":5,"t":40,"y":-4.94},{"k":5,"t":41,"y":-4.98},{"k":5,"t":42,"y":-5.02},{"k":5,"t":43,"y":-5.04},{"k":5,"t":44,"y":-5.01},{"k":5,"t":45,"y":-4.98},{"k":5,"t":46,"y":-4.97},{"k":5,"t":47,"y":-4.99},{"k":5,"t":48,"y":-5.02},{"k":5,"t":49,"y":-5},{"k":5,"t":50,"y":-4.97},{"k":5,"t":51,"y":-4.95},{"k":5,"t":52,"y":-4.98},{"k":5,"t":53,"y":-5.02},{"k":5,"t":54,"y":-5.04},{"k":5,"t":55,"y":-5.01},{"k":5,"t":56,"y":-4.98},{"k":5,"t":57,"y":-4.96},{"k":5,"t":58,"y":-4.98},{"k":5,"t":59,"y":-5},{"k":5,"t":60,"y":-4.98},
{"k":6,"t":0,"y":-5.99},{"k":6,"t":1,"y":-6.02},{"k":6,"t":2,"y":-6},{"k":6,"t":3,"y":-5.97},{"k":6,"t":4,"y":-5.95},{"k":6,"t":5,"y":-5.97},{"k":6,"t":6,"y":-6},{"k":6,"t":7,"y":-6.02},{"k":6,"t":8,"y":-5.99},{"k":6,"t":9,"y":-5.97},{"k":6,"t":10,"y":-5.99},{"k":6,"t":11,"y":-6.03},{"k":6,"t":12,"y":-6.04},{"k":6,"t":13,"y":-6.01},{"k":6,"t":14,"y":-5.98},{"k":6,"t":15,"y":-5.96},{"k":6,"t":16,"y":-5.98},{"k":6,"t":17,"y":-6.01},{"k":6,"t":18,"y":-5.99},{"k":6,"t":19,"y":-5.96},{"k":6,"t":20,"y":-5.97},{"k":6,"t":21,"y":-6},{"k":6,"t":22,"y":-6.02},{"k":6,"t":23,"y":-5.99},{"k":6,"t":24,"y":-5.96},{"k":6,"t":25,"y":-5.94},{"k":6,"t":26,"y":-5.97},{"k":6,"t":27,"y":-6},{"k":6,"t":28,"y":-6.02},{"k":6,"t":29,"y":-6},{"k":6,"t":30,"y":-5.97},{"k":6,"t":31,"y":-5.95},{"k":6,"t":32,"y":-5.97},{"k":6,"t":33,"y":-6},{"k":6,"t":34,"y":-6.02},{"k":6,"t":35,"y":-6.08},{"k":6,"t":35.5,"y":-6.2},{"k":6,"t":36,"y":-5.95},{"k":6,"t":36.5,"y":-5.7},{"k":6,"t":37,"y":-5.66},{"k":6,"t":37.5,"y":-5.82},{"k":6,"t":38,"y":-5.98},{"k":6,"t":39,"y":-6.03},{"k":6,"t":40,"y":-5.95},{"k":6,"t":41,"y":-5.88},{"k":6,"t":42,"y":-5.94},{"k":6,"t":43,"y":-6},{"k":6,"t":44,"y":-6.03},{"k":6,"t":45,"y":-5.98},{"k":6,"t":46,"y":-5.9},{"k":6,"t":47,"y":-5.95},{"k":6,"t":48,"y":-6.01},{"k":6,"t":49,"y":-5.99},{"k":6,"t":50,"y":-5.96},{"k":6,"t":51,"y":-5.98},{"k":6,"t":52,"y":-6.02},{"k":6,"t":53,"y":-6},{"k":6,"t":54,"y":-5.97},{"k":6,"t":55,"y":-5.95},{"k":6,"t":56,"y":-5.98},{"k":6,"t":57,"y":-6.01},{"k":6,"t":58,"y":-5.99},{"k":6,"t":59,"y":-5.97},{"k":6,"t":60,"y":-5.99},
{"k":7,"t":0,"y":-6.98},{"k":7,"t":1,"y":-6.96},{"k":7,"t":2,"y":-6.99},{"k":7,"t":3,"y":-7.02},{"k":7,"t":4,"y":-7.04},{"k":7,"t":5,"y":-7.02},{"k":7,"t":6,"y":-6.99},{"k":7,"t":7,"y":-6.97},{"k":7,"t":8,"y":-6.98},{"k":7,"t":9,"y":-7},{"k":7,"t":10,"y":-6.98},{"k":7,"t":11,"y":-6.97},{"k":7,"t":12,"y":-7.01},{"k":7,"t":13,"y":-7.06},{"k":7,"t":14,"y":-7.04},{"k":7,"t":15,"y":-7},{"k":7,"t":16,"y":-6.98},{"k":7,"t":17,"y":-6.99},{"k":7,"t":18,"y":-7.01},{"k":7,"t":19,"y":-6.98},{"k":7,"t":20,"y":-6.96},{"k":7,"t":21,"y":-6.98},{"k":7,"t":22,"y":-7},{"k":7,"t":23,"y":-6.98},{"k":7,"t":24,"y":-6.95},{"k":7,"t":25,"y":-6.94},{"k":7,"t":26,"y":-6.97},{"k":7,"t":27,"y":-7},{"k":7,"t":28,"y":-7.02},{"k":7,"t":29,"y":-6.99},{"k":7,"t":30,"y":-6.97},{"k":7,"t":31,"y":-6.98},{"k":7,"t":32,"y":-7.01},{"k":7,"t":33,"y":-6.99},{"k":7,"t":34,"y":-6.97},{"k":7,"t":35,"y":-6.99},{"k":7,"t":36,"y":-7.02},{"k":7,"t":37,"y":-6.99},{"k":7,"t":38,"y":-6.97},{"k":7,"t":39,"y":-6.99},{"k":7,"t":40,"y":-7.05},{"k":7,"t":41,"y":-7.02},{"k":7,"t":42,"y":-6.98},{"k":7,"t":43,"y":-6.96},{"k":7,"t":44,"y":-6.98},{"k":7,"t":45,"y":-7.03},{"k":7,"t":46,"y":-7.06},{"k":7,"t":47,"y":-7.02},{"k":7,"t":48,"y":-6.97},{"k":7,"t":49,"y":-6.95},{"k":7,"t":50,"y":-6.98},{"k":7,"t":51,"y":-7.01},{"k":7,"t":52,"y":-6.99},{"k":7,"t":53,"y":-6.97},{"k":7,"t":54,"y":-6.99},{"k":7,"t":55,"y":-7.01},{"k":7,"t":56,"y":-6.98},{"k":7,"t":57,"y":-6.97},{"k":7,"t":58,"y":-6.99},{"k":7,"t":59,"y":-7},{"k":7,"t":60,"y":-6.99}
]
},
"vconcat":[
{
"width":688,"height":262,
"layer":[
{"data":{"name":"A"},"mark":{"type":"line","stroke":"#0d0d0d","strokeWidth":1,"strokeJoin":"bevel"},
"encoding":{
"x":{"field":"t","type":"quantitative","scale":{"domain":[0,120],"nice":false,"zero":false},
"axis":{"title":null,"values":[0,5,10,15,20,25,30,35,40,45,50,55,60,65,70,75,80,85,90,95,100,105,110,115,120],"labelExpr":"datum.value % 30 === 0 ? datum.label : ''","tickSize":{"condition":{"test":"datum.value % 30 === 0","value":-12},"value":-6},"tickColor":"black","tickWidth":1.5,"domainColor":"black","domainWidth":1.5,"labelPadding":17,"labelFontSize":23,"labelFlush":false,"labelOverlap":false,"grid":false}},
"y":{"field":"y","type":"quantitative","scale":{"domain":[-14,1],"nice":false,"zero":false},"axis":null},
"detail":{"field":"k","type":"nominal"}}},
{"data":{"name":"A"},"transform":[{"filter":"datum.k === 3 && datum.t < 90"}],"mark":{"type":"line","stroke":"#0d0d0d","strokeWidth":1.6,"strokeJoin":"bevel"},
"encoding":{"x":{"field":"t","type":"quantitative","title":null},"y":{"field":"y","type":"quantitative","axis":null}}},
{"data":{"values":[{"y":0,"s":"22:44"},{"y":-1,"s":"22:46"},{"y":-2,"s":"22:48"},{"y":-3,"s":"22:50"},{"y":-4,"s":"22:52"},{"y":-5,"s":"22:54"},{"y":-6,"s":"22:56"},{"y":-7,"s":"22:58"},{"y":-8,"s":"23:00"},{"y":-9,"s":"23:02"},{"y":-10,"s":"23:04"},{"y":-11,"s":"23:06"},{"y":-12,"s":"23:08"},{"y":-13,"s":"23:10"}]},
"mark":{"type":"text","fontSize":18,"font":"Liberation Serif","color":"black","align":"right","baseline":"middle"},
"encoding":{"x":{"datum":-5.23,"type":"quantitative","title":null},"y":{"field":"y","type":"quantitative","axis":null},"text":{"field":"s"}}},
{"data":{"values":[{"t":-40.1,"y":0.69,"s":"(a)"},{"t":-16.7,"y":0.69,"s":"2008/01/07/"},{"t":7.5,"y":0.69,"s":"YKB"},{"t":20.6,"y":0.69,"s":"UD"}]},
"mark":{"type":"text","fontSize":30,"font":"Liberation Serif","color":"black","align":"center","baseline":"alphabetic"},
"encoding":{"x":{"field":"t","type":"quantitative","title":null},"y":{"field":"y","type":"quantitative","axis":null},"text":{"field":"s"}}},
{"data":{"values":[{"t":47.3,"y":0.8,"s":"Off-Iwate M3.5"},{"t":81.3,"y":0.8,"s":"Max. LF"},{"t":125.6,"y":-15.4,"s":"s"}]},
"mark":{"type":"text","fontSize":23,"font":"Liberation Serif","color":"black","align":"center","baseline":"alphabetic"},
"encoding":{"x":{"field":"t","type":"quantitative","title":null},"y":{"field":"y","type":"quantitative","axis":null},"text":{"field":"s"}}},
{"data":{"values":[{"t":117.2,"y":0.74,"s":"2.50e-06 m/s"}]},
"mark":{"type":"text","fontSize":14,"font":"Liberation Serif","color":"black","align":"right","baseline":"middle"},
"encoding":{"x":{"field":"t","type":"quantitative","title":null},"y":{"field":"y","type":"quantitative","axis":null},"text":{"field":"s"}}},
{"data":{"values":[{"t":130.5,"y":-4.87,"s":"TR"}]},
"mark":{"type":"text","fontSize":33,"font":"Liberation Serif","color":"black","align":"center","baseline":"middle"},
"encoding":{"x":{"field":"t","type":"quantitative","title":null},"y":{"field":"y","type":"quantitative","axis":null},"text":{"field":"s"}}},
{"data":{"values":[{"t":33.26,"y":1.33,"t2":28.94,"y2":0.29},{"t":70.47,"y":0.97,"t2":62.06,"y2":-0.72},{"t":120.5,"y":0.57,"t2":120.5,"y2":-0.34},{"t":118.9,"y":0.57,"t2":122.1,"y2":0.57},{"t":118.9,"y":-0.34,"t2":122.1,"y2":-0.34},{"t":124.8,"y":-1.55,"t2":124.8,"y2":-8.7},{"t":121.6,"y":-1.55,"t2":124.8,"y2":-1.55},{"t":121.6,"y":-8.7,"t2":124.8,"y2":-8.7}]},
"mark":{"type":"rule","color":"black","strokeWidth":2},
"encoding":{"x":{"field":"t","type":"quantitative","title":null},"y":{"field":"y","type":"quantitative","axis":null},"x2":{"field":"t2"},"y2":{"field":"y2"}}},
{"data":{"values":[{"t":28.94,"y":0.29,"a":233},{"t":62.06,"y":-0.72,"a":238}]},
"mark":{"type":"point","shape":"triangle-up","filled":true,"size":80,"color":"black","opacity":1},
"encoding":{"x":{"field":"t","type":"quantitative","title":null},"y":{"field":"y","type":"quantitative","axis":null},"angle":{"field":"a","type":"quantitative","scale":null}}}
]
},
{
"width":687,"height":159,
"layer":[
{"data":{"name":"B"},"mark":{"type":"line","stroke":"#0d0d0d","strokeWidth":1,"strokeJoin":"bevel"},
"encoding":{
"x":{"field":"t","type":"quantitative","scale":{"domain":[0,60],"nice":false,"zero":false},
"axis":{"title":null,"values":[0,1,2,3,4,5,6,7,8,9,10,11,12,13,14,15,16,17,18,19,20,21,22,23,24,25,26,27,28,29,30,31,32,33,34,35,36,37,38,39,40,41,42,43,44,45,46,47,48,49,50,51,52,53,54,55,56,57,58,59,60],"labelExpr":"datum.value % 10 === 0 ? datum.label : ''","tickSize":{"condition":{"test":"datum.value % 10 === 0","value":-12},"value":-6},"tickColor":"black","tickWidth":1.5,"domainColor":"black","domainWidth":1.5,"labelPadding":17,"labelFontSize":23,"labelFlush":false,"labelOverlap":false,"grid":false}},
"y":{"field":"y","type":"quantitative","scale":{"domain":[-8,1],"nice":false,"zero":false},"axis":null},
"detail":{"field":"k","type":"nominal"}}},
{"data":{"name":"B"},"transform":[{"filter":"datum.k === 3 && datum.t >= 13"}],"mark":{"type":"line","stroke":"#0d0d0d","strokeWidth":1.3,"strokeJoin":"bevel"},
"encoding":{"x":{"field":"t","type":"quantitative","title":null},"y":{"field":"y","type":"quantitative","axis":null}}},
{"data":{"values":[{"y":0,"s":"22:47"},{"y":-1,"s":"22:48"},{"y":-2,"s":"22:49"},{"y":-3,"s":"22:50"},{"y":-4,"s":"22:51"},{"y":-5,"s":"22:52"},{"y":-6,"s":"22:53"},{"y":-7,"s":"22:54"}]},
"mark":{"type":"text","fontSize":18,"font":"Liberation Serif","color":"black","align":"right","baseline":"middle"},
"encoding":{"x":{"datum":-2.45,"type":"quantitative","title":null},"y":{"field":"y","type":"quantitative","axis":null},"text":{"field":"s"}}},
{"data":{"values":[{"t":-20.1,"y":0.72,"s":"(b)"},{"t":-8.4,"y":0.72,"s":"2008/01/07/"},{"t":3.0,"y":0.72,"s":"IWT"},{"t":11.3,"y":0.72,"s":"STS_UD"},{"t":20.35,"y":0.72,"s":"VLF"}]},
"mark":{"type":"text","fontSize":30,"font":"Liberation Serif","color":"black","align":"center","baseline":"alphabetic"},
"encoding":{"x":{"field":"t","type":"quantitative","title":null},"y":{"field":"y","type":"quantitative","axis":null},"text":{"field":"s"}}},
{"data":{"values":[{"t":69.3,"y":-0.9,"s":"Max. LF"}]},
"mark":{"type":"text","fontSize":27,"font":"Liberation Serif","color":"black","align":"center","baseline":"alphabetic"},
"encoding":{"x":{"field":"t","type":"quantitative","title":null},"y":{"field":"y","type":"quantitative","axis":null},"text":{"field":"s"}}},
{"data":{"values":[{"t":62.2,"y":-9.32,"s":"s"}]},
"mark":{"type":"text","fontSize":23,"font":"Liberation Serif","color":"black","align":"center","baseline":"alphabetic"},
"encoding":{"x":{"field":"t","type":"quantitative","title":null},"y":{"field":"y","type":"quantitative","axis":null},"text":{"field":"s"}}},
{"data":{"values":[{"t":58.95,"y":0.45,"s":"1.00e-04 m/s"}]},
"mark":{"type":"text","fontSize":14,"font":"Liberation Serif","color":"black","align":"right","baseline":"middle"},
"encoding":{"x":{"field":"t","type":"quantitative","title":null},"y":{"field":"y","type":"quantitative","axis":null},"text":{"field":"s"}}},
{"data":{"values":[{"t":19.4,"y":0.5,"t2":19.4,"y2":-1.36},{"t":64.37,"y":-0.51,"t2":60.91,"y2":-2.43},{"t":60.26,"y":0.4,"t2":60.26,"y2":-0.56},{"t":59.48,"y":0.4,"t2":61.14,"y2":0.4},{"t":59.48,"y":-0.56,"t2":61.14,"y2":-0.56}]},
"mark":{"type":"rule","color":"black","strokeWidth":2},
"encoding":{"x":{"field":"t","type":"quantitative","title":null},"y":{"field":"y","type":"quantitative","axis":null},"x2":{"field":"t2"},"y2":{"field":"y2"}}},
{"data":{"values":[{"t":19.4,"y":-1.36,"a":180},{"t":60.91,"y":-2.43,"a":229}]},
"mark":{"type":"point","shape":"triangle-up","filled":true,"size":80,"color":"black","opacity":1},
"encoding":{"x":{"field":"t","type":"quantitative","title":null},"y":{"field":"y","type":"quantitative","axis":null},"angle":{"field":"a","type":"quantitative","scale":null}}}
]
}
]
}
